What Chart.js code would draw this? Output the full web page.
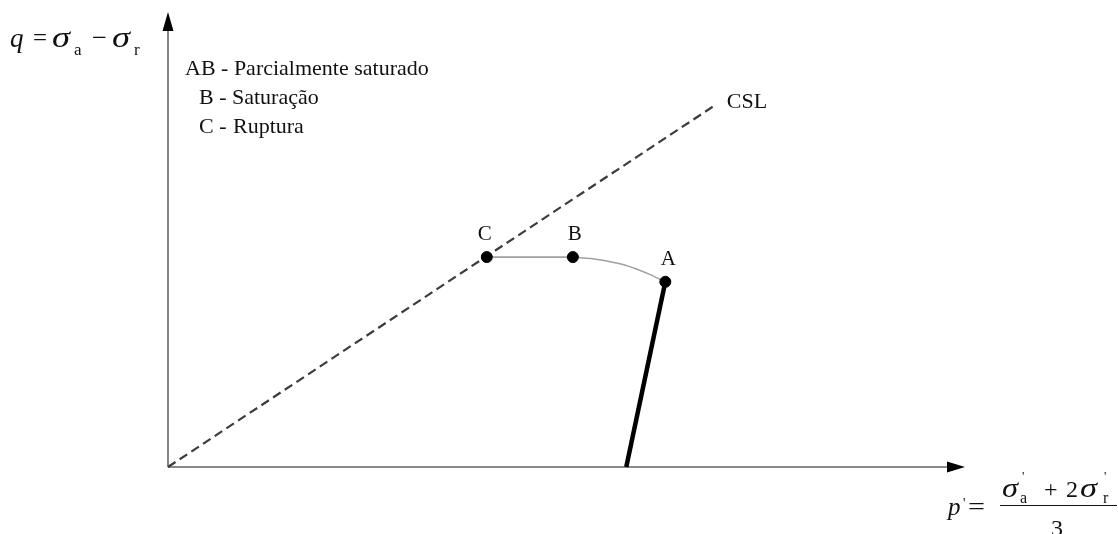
<!DOCTYPE html>
<html>
<head>
<meta charset="utf-8">
<script src="https://cdn.jsdelivr.net/npm/chart.js@4/dist/chart.umd.min.js"></script>
<style>
  html, body { margin: 0; padding: 0; background: #fff; }
  #wrap { width: 1118px; height: 534px; position: relative; }
</style>
</head>
<body>
<div id="wrap"><canvas id="c" width="1118" height="534"></canvas></div>
<script>
// Axis extents (p' horizontally, q vertically)
const pMax = 100;
const qMax = 57;

// Stress path states
const stateLabels = ['C', 'B', 'A'];
const stateP = [40.0, 50.8, 62.4];
const stateQ = [26.3, 26.3, 23.2];

// Critical state line
const cslP = [0, 68.6];
const cslQ = [0, 45.3];

// Loading path up to A
const loadP = [57.5, 62.4];
const loadQ = [0, 23.2];

// Partially saturated stretch A -> B (curved)
const curveP = [50.8, 53.9, 57.3, 60.5, 62.4];
const curveQ = [26.3, 26.0, 25.3, 24.1, 23.2];

// Saturated stretch B -> C
const flatP = [40.0, 50.8];
const flatQ = [26.3, 26.3];

const legendLines = [
  ['AB - ', 'Parcialmente saturado'],
  ['B - ', 'Saturação'],
  ['C - ', 'Ruptura']
];

const zip = (xs, ys) => xs.map((x, i) => ({ x, y: ys[i] }));
const SERIF = '"Liberation Serif", "DejaVu Serif", serif';

const overlay = {
  id: 'overlay',
  beforeDatasetsDraw(chart) {
    const { ctx, scales: { x, y } } = chart;
    const x0 = x.getPixelForValue(0), y0 = y.getPixelForValue(0);
    const xr = x.getPixelForValue(pMax), yt = y.getPixelForValue(qMax);
    ctx.save();
    // horizontal axis
    ctx.strokeStyle = '#8a8a8a';
    ctx.lineWidth = 2;
    ctx.beginPath(); ctx.moveTo(x0, y0); ctx.lineTo(xr - 14, y0); ctx.stroke();
    ctx.fillStyle = '#000';
    ctx.beginPath(); ctx.moveTo(xr, y0); ctx.lineTo(xr - 18, y0 - 5.5); ctx.lineTo(xr - 18, y0 + 5.5); ctx.closePath(); ctx.fill();
    // vertical axis
    ctx.strokeStyle = '#444';
    ctx.lineWidth = 1.3;
    ctx.beginPath(); ctx.moveTo(x0, y0); ctx.lineTo(x0, yt + 14); ctx.stroke();
    ctx.beginPath(); ctx.moveTo(x0, yt); ctx.lineTo(x0 - 5.5, yt + 19); ctx.lineTo(x0 + 5.5, yt + 19); ctx.closePath(); ctx.fill();
    ctx.restore();
  },
  afterDraw(chart) {
    const { ctx, scales: { x, y } } = chart;
    const x0 = x.getPixelForValue(0), y0 = y.getPixelForValue(0);
    const xr = x.getPixelForValue(pMax), yt = y.getPixelForValue(qMax);
    ctx.save();
    ctx.fillStyle = '#111';
    ctx.textBaseline = 'alphabetic';
    ctx.textAlign = 'left';
    const put = (t, px, py, size, italic) => {
      ctx.font = (italic ? 'italic ' : '') + size + 'px ' + SERIF;
      ctx.fillText(t, px, py);
    };
    // glyph stretched horizontally to a given width (wide math symbols)
    const putW = (t, px, py, size, italic, w) => {
      ctx.font = (italic ? 'italic ' : '') + size + 'px ' + SERIF;
      const k = w / ctx.measureText(t).width;
      ctx.save();
      ctx.translate(px, py);
      ctx.scale(k, 1);
      ctx.fillText(t, 0, 0);
      ctx.restore();
    };

    // vertical axis title: q = σa − σr
    put('q', x0 - 158, yt + 35, 27, true);
    putW('=', x0 - 135, yt + 34, 26, false, 14);
    putW('σ', x0 - 116, yt + 35, 29, true, 18);
    put('a', x0 - 94, yt + 43, 17, false);
    putW('−', x0 - 76, yt + 34, 26, false, 15);
    putW('σ', x0 - 56, yt + 35, 29, true, 18);
    put('r', x0 - 34, yt + 43, 17, false);

    // horizontal axis title: p' = (σ'a + 2σ'r) / 3
    put('p', xr - 17, y0 + 48, 25, true);
    put("'", xr - 2, y0 + 41, 14, false);
    putW('=', xr + 3, y0 + 47, 24, false, 17);
    ctx.strokeStyle = '#111'; ctx.lineWidth = 1;
    ctx.beginPath(); ctx.moveTo(xr + 35, y0 + 38.5); ctx.lineTo(xr + 152, y0 + 38.5); ctx.stroke();
    putW('σ', xr + 37, y0 + 30, 27, true, 16);
    put("'", xr + 57, y0 + 13, 13, false);
    put('a', xr + 55, y0 + 36, 16, false);
    put('+', xr + 79, y0 + 30, 24, false);
    put('2', xr + 101, y0 + 30, 24, false);
    putW('σ', xr + 115, y0 + 30, 27, true, 17);
    put("'", xr + 139, y0 + 13, 13, false);
    put('r', xr + 138, y0 + 36, 16, false);
    put('3', xr + 86, y0 + 69, 24, false);

    // legend text
    const lx = x0 + 17;
    put(legendLines[0][0] + legendLines[0][1], lx, yt + 63, 22, false);
    put(legendLines[1][0], lx + 14, yt + 92, 22, false);
    put(legendLines[1][1], lx + 47, yt + 92, 22, false);
    put(legendLines[2][0], lx + 14, yt + 121, 22, false);
    put(legendLines[2][1], lx + 48, yt + 121, 22, false);

    // CSL label at the end of the line
    put('CSL', x.getPixelForValue(cslP[1]) + 12, y.getPixelForValue(cslQ[1]) + 3, 22, false);

    // state labels above the markers
    ctx.textAlign = 'center';
    const dx = [-2, 2, 3];
    stateLabels.forEach((s, i) => {
      put(s, x.getPixelForValue(stateP[i]) + dx[i], y.getPixelForValue(stateQ[i]) - 17, 21, false);
    });
    ctx.restore();
  }
};

new Chart(document.getElementById('c'), {
  type: 'scatter',
  data: {
    datasets: [
      { data: zip(stateP, stateQ), showLine: false, pointRadius: 5.5, pointBackgroundColor: '#000', pointBorderColor: '#000', clip: false, order: 0 },
      { data: zip(loadP, loadQ), showLine: true, borderColor: '#000', borderWidth: 4.5, pointRadius: 0, clip: false, order: 1 },
      { data: zip(flatP, flatQ), showLine: true, borderColor: '#a0a0a0', borderWidth: 1.8, pointRadius: 0, clip: false, order: 2 },
      { data: zip(curveP, curveQ), showLine: true, borderColor: '#a0a0a0', borderWidth: 1.5, pointRadius: 0, cubicInterpolationMode: 'monotone', clip: false, order: 3 },
      { data: zip(cslP, cslQ), showLine: true, borderColor: '#3c3c3c', borderWidth: 2.2, borderDash: [9, 5], pointRadius: 0, clip: false, order: 4 }
    ]
  },
  options: {
    responsive: false,
    animation: false,
    events: [],
    layout: { padding: { left: 168, right: 153, top: 12, bottom: 67 } },
    plugins: { legend: { display: false }, tooltip: { enabled: false } },
    scales: {
      x: { type: 'linear', min: 0, max: pMax, display: false },
      y: { type: 'linear', min: 0, max: qMax, display: false }
    }
  },
  plugins: [overlay]
});
</script>
</body>
</html>
